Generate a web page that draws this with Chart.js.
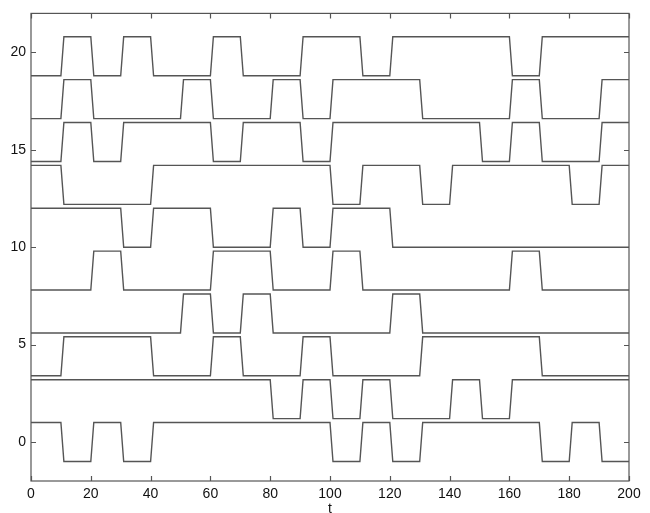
<!DOCTYPE html>
<html>
<head>
<meta charset="utf-8">
<script src="https://cdn.jsdelivr.net/npm/chart.js@4/dist/chart.umd.min.js"></script>
<style>
  html, body { margin: 0; padding: 0; background: #fff; }
  #wrap { width: 650px; height: 513px; }
</style>
</head>
<body>
<div id="wrap"><canvas id="c" width="650" height="513"></canvas></div>
<script>
// Ten binary channels; each holds its state (+1 / -1) for 20 intervals of 10 time units.
// State k is held on (10k, 10k+10]; the first one also covers t = 0.
const sig0 = [ 1,-1, 1,-1, 1, 1, 1, 1, 1, 1,-1, 1,-1, 1, 1, 1, 1,-1, 1,-1];
const sig1 = [ 1, 1, 1, 1, 1, 1, 1, 1,-1, 1,-1, 1,-1,-1, 1,-1, 1, 1, 1, 1];
const sig2 = [-1, 1, 1, 1,-1,-1, 1,-1,-1, 1,-1,-1,-1, 1, 1, 1, 1,-1,-1,-1];
const sig3 = [-1,-1,-1,-1,-1, 1,-1, 1,-1,-1,-1,-1, 1,-1,-1,-1,-1,-1,-1,-1];
const sig4 = [-1,-1, 1,-1,-1,-1, 1, 1,-1,-1, 1,-1,-1,-1,-1,-1, 1,-1,-1,-1];
const sig5 = [ 1, 1, 1,-1, 1, 1,-1,-1, 1,-1, 1, 1,-1,-1,-1,-1,-1,-1,-1,-1];
const sig6 = [ 1,-1,-1,-1, 1, 1, 1, 1, 1, 1,-1, 1, 1,-1, 1, 1, 1, 1,-1, 1];
const sig7 = [-1, 1,-1, 1, 1, 1,-1, 1, 1,-1, 1, 1, 1, 1, 1,-1, 1,-1,-1, 1];
const sig8 = [-1, 1,-1,-1,-1, 1,-1,-1, 1,-1, 1, 1, 1,-1,-1,-1, 1,-1,-1, 1];
const sig9 = [-1, 1,-1, 1,-1,-1, 1,-1,-1, 1, 1,-1, 1, 1, 1, 1,-1, 1, 1, 1];

const signals = [sig0, sig1, sig2, sig3, sig4, sig5, sig6, sig7, sig8, sig9];
// vertical offset of each channel
const offsets = [0, 2.2, 4.4, 6.6, 8.8, 11.0, 13.2, 15.4, 17.6, 19.8];
const segLen = 10;

const xTicks = [0, 20, 40, 60, 80, 100, 120, 140, 160, 180, 200];
const yTicks = [0, 5, 10, 15, 20];
const xRange = [0, 200];
const yRange = [-2, 22];

function channelPoints(states, off) {
  const pts = [];
  states.forEach((s, k) => {
    const a = k === 0 ? 0 : k * segLen + 1;
    const b = (k + 1) * segLen;
    pts.push({ x: a, y: s + off }, { x: b, y: s + off });
  });
  return pts;
}

const lineColor = '#555555';
const datasets = signals.map((s, i) => ({
  data: channelPoints(s, offsets[i]),
  borderColor: lineColor,
  borderWidth: 1.4,
  pointRadius: 0,
  tension: 0,
  fill: false
}));

// frame around the plot area with inward tick marks on all four sides
const framePlugin = {
  id: 'frame',
  afterDraw(chart) {
    const { ctx, chartArea: a, scales } = chart;
    const len = 5;
    ctx.save();
    ctx.strokeStyle = '#555';
    ctx.lineWidth = 1.2;
    ctx.strokeRect(a.left, a.top, a.right - a.left, a.bottom - a.top);
    ctx.beginPath();
    xTicks.forEach(v => {
      const px = Math.round(scales.x.getPixelForValue(v)) + 0.5;
      ctx.moveTo(px, a.bottom); ctx.lineTo(px, a.bottom - len);
      ctx.moveTo(px, a.top); ctx.lineTo(px, a.top + len);
    });
    yTicks.forEach(v => {
      const py = Math.round(scales.y.getPixelForValue(v)) + 0.5;
      ctx.moveTo(a.left, py); ctx.lineTo(a.left + len, py);
      ctx.moveTo(a.right, py); ctx.lineTo(a.right - len, py);
    });
    ctx.stroke();
    ctx.restore();
  }
};

const font = { family: '"Liberation Sans", Arial, Helvetica, sans-serif', size: 14 };

new Chart(document.getElementById('c'), {
  type: 'line',
  data: { datasets },
  options: {
    responsive: false,
    animation: false,
    events: [],
    layout: { padding: { top: 10, right: 21, left: 0, bottom: 0 } },
    plugins: { legend: { display: false }, tooltip: { enabled: false } },
    scales: {
      x: {
        type: 'linear',
        min: xRange[0], max: xRange[1],
        afterBuildTicks(s) { s.ticks = xTicks.map(v => ({ value: v })); },
        afterFit(s) { s.height = 32; },
        grid: { display: false, drawTicks: false },
        border: { display: false },
        ticks: { color: '#111', font, padding: 5, maxRotation: 0 },
        title: { display: true, text: 't', color: '#111', font, padding: { top: 0, bottom: -5 } }
      },
      y: {
        type: 'linear',
        min: yRange[0], max: yRange[1],
        afterBuildTicks(s) { s.ticks = yTicks.map(v => ({ value: v })); },
        afterFit(s) { s.width = 31; },
        grid: { display: false, drawTicks: false },
        border: { display: false },
        ticks: { color: '#111', font, padding: 5 }
      }
    }
  },
  plugins: [framePlugin]
});
</script>
</body>
</html>
